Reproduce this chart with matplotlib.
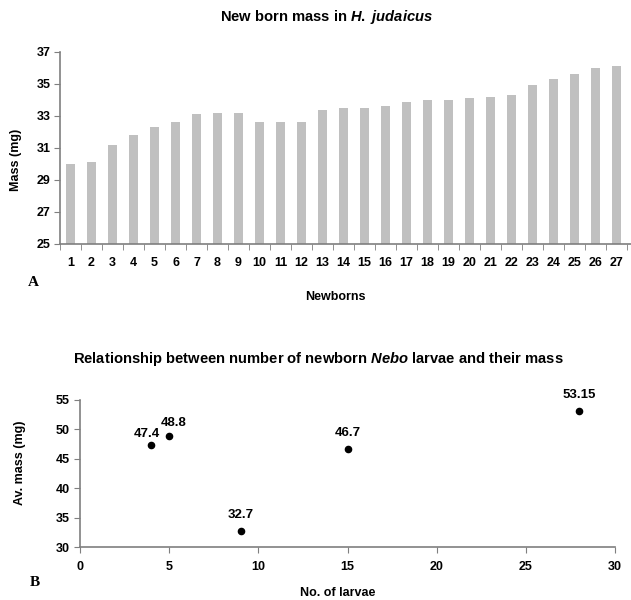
import matplotlib
matplotlib.use("Agg")
import matplotlib.pyplot as plt
import numpy as np

plt.rcParams['font.family'] = ['Liberation Sans', 'DejaVu Sans']
plt.rcParams['font.weight'] = 'bold'
plt.rcParams['mathtext.fontset'] = 'custom'
plt.rcParams['mathtext.it'] = 'Liberation Sans:italic:bold'
plt.rcParams['mathtext.rm'] = 'Liberation Sans:bold'
plt.rcParams['mathtext.bf'] = 'Liberation Sans:bold'

# Panel A data
newborns = [str(i) for i in range(1, 28)]
mass = [30.0, 30.15, 31.2, 31.8, 32.3, 32.6, 33.1, 33.2, 33.2, 32.6, 32.6, 32.6,
        33.4, 33.5, 33.5, 33.6, 33.9, 34.0, 34.0, 34.1, 34.2, 34.3, 34.95, 35.3,
        35.65, 36.0, 36.1]
yticks_a = [25, 27, 29, 31, 33, 35, 37]

# Panel B data
n_larvae = [4, 5, 9, 15, 28]
av_mass = [47.4, 48.8, 32.7, 46.7, 53.15]
point_labels = ["47.4", "48.8", "32.7", "46.7", "53.15"]
label_offsets = [(-3, 8), (3, 10), (0, 11.5), (0, 11.5), (0, 11.5)]
yticks_b = [30, 35, 40, 45, 50, 55]
xticks_b = [0, 5, 10, 15, 20, 25, 30]

W, H = 631, 600
fig = plt.figure(figsize=(W / 100, H / 100), dpi=100)

spine_col = '#7f7f7f'
tick_fs = 9
lab_fs = 9
title_fs = 10.6

# ---- Panel A ----
axA = fig.add_axes([60 / W, (H - 244) / H, 571 / W, 192 / H])
x = np.arange(len(mass))
axA.bar(x, [m - 25 for m in mass], bottom=25, width=0.45, color='#c0c0c0',
        edgecolor='none')
axA.set_xlim(-0.5, 26.69)
axA.set_ylim(25, 37)
axA.set_yticks(yticks_a)
axA.set_yticklabels([str(v) for v in yticks_a], fontsize=tick_fs, fontweight='bold')
axA.set_xticks(x)
axA.set_xticklabels(newborns, fontsize=tick_fs, fontweight='bold')
axA.tick_params(axis='x', length=0, pad=9)
axA.set_xticks(np.arange(-0.5, 26.6, 1), minor=True)
axA.tick_params(axis='x', which='minor', length=4, color=spine_col, direction='out')
axA.tick_params(axis='y', length=4, color=spine_col, pad=3)
for s in ['top', 'right']:
    axA.spines[s].set_visible(False)
for s in ['left', 'bottom']:
    axA.spines[s].set_color(spine_col)
    axA.spines[s].set_linewidth(1.2)
fig.text(327 / W, 1 - 17 / H, r"New born mass in $H.$ $judaicus$", ha='center', va='center',
         fontsize=title_fs, fontweight='bold')
fig.text(16 / W, 1 - 160 / H, "Mass (mg)", rotation=90, ha='center', va='center',
         fontsize=lab_fs, fontweight='bold')
fig.text(335 / W, 1 - 297 / H, "Newborns", ha='center', va='center',
         fontsize=lab_fs, fontweight='bold')
fig.text(33 / W, 1 - 283 / H, "A", ha='center', va='center', fontsize=11,
         fontweight='bold', family='Liberation Serif')

# ---- Panel B ----
axB = fig.add_axes([80 / W, (H - 547) / H, 535 / W, 147 / H])
axB.scatter(n_larvae, av_mass, s=20, color='black', zorder=3)
for xv, yv, lab, off in zip(n_larvae, av_mass, point_labels, label_offsets):
    axB.annotate(lab, (xv, yv), xytext=off, textcoords='offset points',
                 ha='center', va='center', fontsize=9.5, fontweight='bold')
axB.set_xlim(0, 30)
axB.set_ylim(30, 55)
axB.set_xticks(xticks_b)
axB.set_xticklabels([str(v) for v in xticks_b], fontsize=tick_fs, fontweight='bold')
axB.set_yticks(yticks_b)
axB.set_yticklabels([str(v) for v in yticks_b], fontsize=tick_fs, fontweight='bold')
axB.tick_params(axis='both', length=4, color=spine_col)
axB.tick_params(axis='x', pad=6)
for s in ['top', 'right']:
    axB.spines[s].set_visible(False)
for s in ['left', 'bottom']:
    axB.spines[s].set_color(spine_col)
    axB.spines[s].set_linewidth(1.2)
fig.text(318 / W, 1 - 359 / H,
         r"Relationship between number of newborn $Nebo$ larvae and their mass",
         ha='center', va='center', fontsize=title_fs, fontweight='bold')
fig.text(20 / W, 1 - 463 / H, "Av. mass (mg)", rotation=90, ha='center', va='center',
         fontsize=lab_fs, fontweight='bold')
fig.text(338 / W, 1 - 593 / H, "No. of larvae", ha='center', va='center',
         fontsize=lab_fs, fontweight='bold')
fig.text(35 / W, 1 - 583 / H, "B", ha='center', va='center', fontsize=11,
         fontweight='bold', family='Liberation Serif')

fig.savefig("out.png", dpi=100)
